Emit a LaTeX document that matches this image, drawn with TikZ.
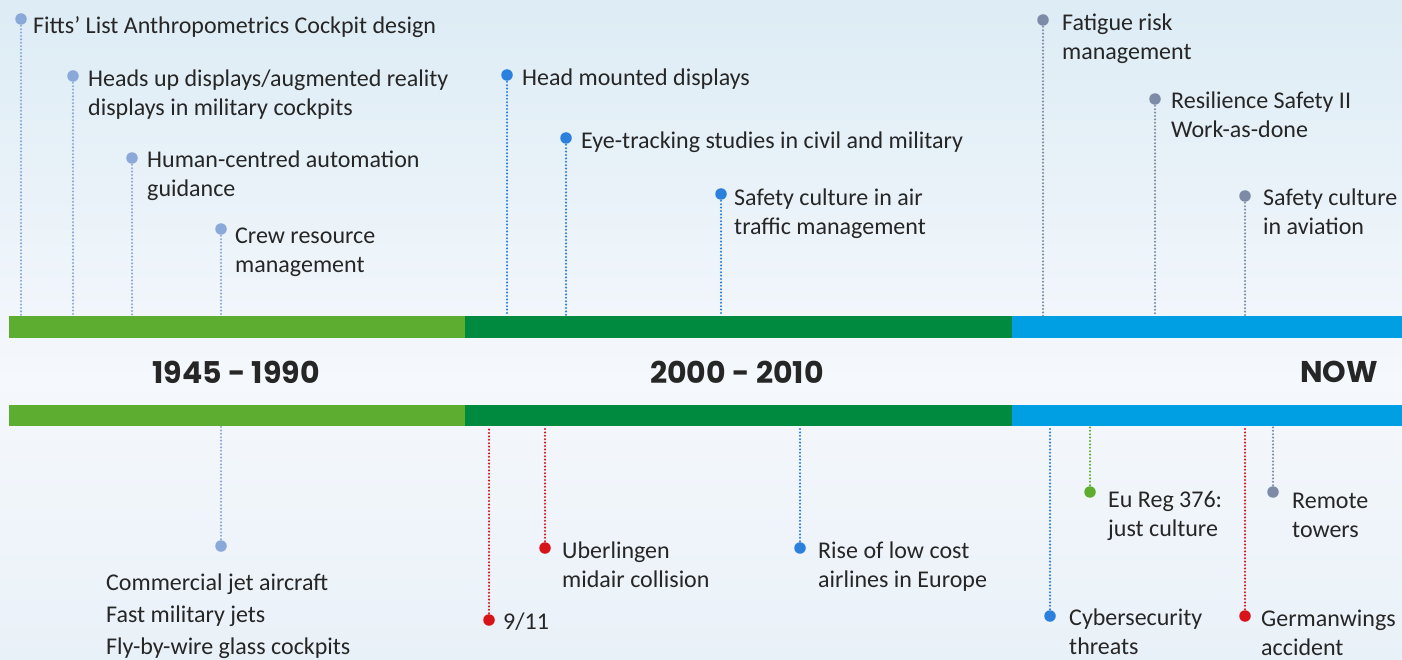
\documentclass[tikz,border=0pt]{standalone}
\usepackage{fontspec}
\setmainfont{Carlito}
\newfontfamily\yearfont{Poppins}
\definecolor{txt}{HTML}{262626}
\definecolor{lgreen}{HTML}{5DAE30}
\definecolor{dgreen}{HTML}{008A40}
\definecolor{bblue}{HTML}{009FE3}
\definecolor{pale}{HTML}{8AA8D8}
\definecolor{mid}{HTML}{2A80DC}
\definecolor{slate}{HTML}{7D8BA6}
\definecolor{red}{HTML}{D7141A}
\definecolor{bgtop}{HTML}{DDECF5}
\definecolor{bgmid}{HTML}{F5F8FC}
\definecolor{bgbot}{HTML}{E9F1F8}
\newcommand{\lblfont}{\fontsize{24}{28.5}\selectfont}
\newcommand{\lstfont}{\fontsize{24}{32}\selectfont}
\tikzset{
  lbl/.style={anchor=north west, inner sep=0pt, align=left, font=\lblfont, text=txt},
  pin/.style={circle, fill=#1, draw=none, inner sep=0pt, minimum size=11.5pt},
  dots/.style={draw=#1, line width=2.3pt, line cap=round, dash pattern=on 0pt off 3.4pt},
  bar/.style={rectangle, fill=#1, draw=none, inner sep=0pt, minimum height=21.5pt, anchor=north west},
  yr/.style={inner sep=0pt, font=\yearfont\bfseries\fontsize{30}{34}\selectfont, text=txt}
}
\begin{document}
\begin{tikzpicture}[x=1pt,y=-1pt]
\useasboundingbox (0,0) rectangle (1402,660);
\shade[top color=bgtop, bottom color=bgmid] (0,0) rectangle (1402,380);
\shade[top color=bgmid, bottom color=bgbot] (0,380) rectangle (1402,660);

% bars
\node[bar=lgreen, minimum width=456pt] (t1) at (9,316) {};
\node[bar=dgreen, minimum width=547pt] (t2) at (465,316) {};
\node[bar=bblue, minimum width=390pt] (t3) at (1012,316) {};
\node[bar=lgreen, minimum width=456pt] (u1) at (9,404.5) {};
\node[bar=dgreen, minimum width=547pt] (u2) at (465,404.5) {};
\node[bar=bblue, minimum width=390pt] (u3) at (1012,404.5) {};

% years
\node[yr] (y1) at (236,372) {1945 - 1990};
\node[yr] (y2) at (737,372) {2000 - 2010};
\node[yr, anchor=east] (y3) at (1378,372) {NOW};

% top events
\node[pin=pale] (p1) at (21,19) {};
\node[lbl] (l1) at (33,13.4) {\strut Fitts’ List Anthropometrics Cockpit design};
\node[pin=pale] (p2) at (73,76) {};
\node[lbl] (l2) at (88,66.4) {\strut Heads up displays/augmented reality\\displays in military cockpits};
\node[pin=pale] (p3) at (132,158) {};
\node[lbl] (l3) at (147,147.4) {\strut Human-centred automation\\guidance};
\node[pin=pale] (p4) at (221,229) {};
\node[lbl] (l4) at (235,223.4) {\strut Crew resource\\management};
\node[pin=mid] (p5) at (507,75) {};
\node[lbl] (l5) at (522,65.4) {\strut Head mounted displays};
\node[pin=mid] (p6) at (566,138) {};
\node[lbl] (l6) at (581,128.4) {\strut Eye-tracking studies in civil and military};
\node[pin=mid] (p7) at (721,194) {};
\node[lbl] (l7) at (734,185.4) {\strut Safety culture in air\\traffic management};
\node[pin=slate] (p8) at (1043,20) {};
\node[lbl] (l8) at (1062,10.4) {\strut Fatigue risk\\management};
\node[pin=slate] (p9) at (1155,99) {};
\node[lbl] (l9) at (1171,88.4) {\strut Resilience Safety II\\Work-as-done};
\node[pin=slate] (p10) at (1245,196) {};
\node[lbl] (l10) at (1263,185.4) {\strut Safety culture\\in aviation};

\foreach \p/\b/\c in {p1/t1/pale,p2/t1/pale,p3/t1/pale,p4/t1/pale,p5/t2/mid,p6/t2/mid,p7/t2/mid,p8/t3/slate,p9/t3/slate,p10/t3/slate}
  \draw[dots=\c] (\p.center) -- (\p.center |- \b.north);

% bottom events
\node[pin=pale] (q1) at (221,546) {};
\node[lbl, font=\lstfont] (m1) at (106,567.6) {\strut Commercial jet aircraft\\Fast military jets\\Fly-by-wire glass cockpits};
\node[pin=red] (q2) at (489,620) {};
\node[lbl] (m2) at (503,609.4) {\strut 9/11};
\node[pin=red] (q3) at (545,548) {};
\node[lbl] (m3) at (562,538.4) {\strut Uberlingen\\midair collision};
\node[pin=mid] (q4) at (800,548) {};
\node[lbl] (m4) at (818,538.4) {\strut Rise of low cost\\airlines in Europe};
\node[pin=mid] (q5) at (1050,616) {};
\node[lbl] (m5) at (1069,605.4) {\strut Cybersecurity\\threats};
\node[pin=lgreen] (q6) at (1090,492) {};
\node[lbl] (m6) at (1108,487.4) {\strut Eu Reg 376:\\just culture};
\node[pin=red] (q7) at (1245,616) {};
\node[lbl] (m7) at (1261,606.4) {\strut Germanwings\\accident};
\node[pin=slate] (q8) at (1273,492) {};
\node[lbl] (m8) at (1292,488.4) {\strut Remote\\towers};

\foreach \p/\b/\c in {q1/u1/pale,q2/u2/red,q3/u2/red,q4/u2/mid,q5/u3/mid,q6/u3/lgreen,q7/u3/red,q8/u3/slate}
  \draw[dots=\c] (\p.center) -- (\p.center |- \b.south);
\end{tikzpicture}
\end{document}
